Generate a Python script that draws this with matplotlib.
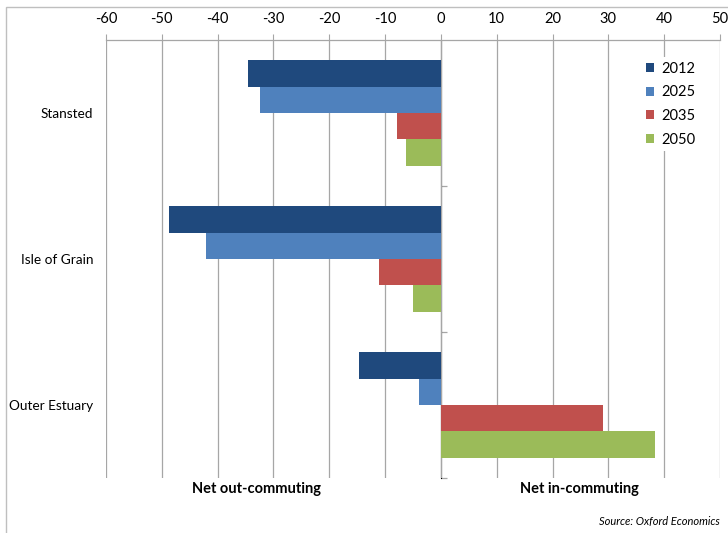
import matplotlib
matplotlib.use("Agg")
import matplotlib.pyplot as plt
from matplotlib.patches import Rectangle
import numpy as np

plt.rcParams['font.family'] = ['Lato', 'DejaVu Sans']

# Net commuting by location and year
locations = ["Stansted", "Isle of Grain", "Outer Estuary"]
years = ["2012", "2025", "2035", "2050"]
values = {
    "2012": [-34.5, -48.7, -14.6],
    "2025": [-32.4, -42.1, -3.9],
    "2035": [-7.9, -11.1, 29.0],
    "2050": [-6.3, -5.0, 38.3],
}
colors = ["#1F497D", "#4F81BD", "#C0504D", "#9BBB59"]
x_ticks = list(range(-60, 51, 10))

fig = plt.figure(figsize=(7.28, 5.33), dpi=100)
ax = fig.add_axes([106 / 728, 1 - 478 / 533, (720 - 106) / 728, (478 - 40) / 533])

pos = np.arange(len(locations))
h = 0.1815
for i, yr in enumerate(years):
    ax.barh(pos + (i - 1.5) * h, values[yr], height=h, color=colors[i],
            label=yr, zorder=3, linewidth=0)

grid_col = "#A6A6A6"
ax.set_xlim(-60, 50)
ax.set_ylim(2.5, -0.5)
ax.set_xticks(x_ticks)
ax.set_xticklabels([str(t) for t in x_ticks])
ax.xaxis.tick_top()
ax.tick_params(axis='x', which='major', direction='out', length=4, color=grid_col,
               labelsize=10.5, pad=6, labelcolor='#000000')
ax.grid(axis='x', color=grid_col, linewidth=0.9, zorder=0)

ax.set_yticks(pos)
ax.set_yticklabels(locations)
ax.tick_params(axis='y', length=0, labelsize=9.8, pad=9)

for s in ['left', 'right', 'bottom']:
    ax.spines[s].set_visible(False)
ax.spines['top'].set_color(grid_col)
ax.spines['top'].set_linewidth(0.9)

# category axis running through zero with boundary ticks
sec = ax.secondary_yaxis(60 / 110)
sec.set_yticks([0.5, 1.5, 2.5])
sec.set_yticklabels(["", "", ""])
sec.tick_params(length=4, color=grid_col, direction='out', width=0.9)
sec.spines['left'].set_color(grid_col)
sec.spines['left'].set_linewidth(0.9)

leg = ax.legend(loc='upper left', bbox_to_anchor=((634 - 106) / 614, (478 - 50) / 438),
                frameon=True, fontsize=10.5, handlelength=0.6, handleheight=0.6,
                handletextpad=0.5, labelspacing=0.66, borderpad=0.3)
leg.get_frame().set_facecolor('white')
leg.get_frame().set_edgecolor('none')
leg.get_frame().set_alpha(1)

fig.text(257 / 728, 1 - 489 / 533, "Net out-commuting", ha='center', va='center',
         fontsize=10.5, fontweight='bold')
fig.text(579 / 728, 1 - 489 / 533, "Net in-commuting", ha='center', va='center',
         fontsize=10.5, fontweight='bold')
fig.text(720 / 728, 1 - 522 / 533, "Source: Oxford Economics", ha='right', va='center',
         fontsize=8, fontstyle='italic')

fig.patches.append(Rectangle((6 / 728, -0.01), 1.0, 1 - 7 / 533 + 0.01,
                             transform=fig.transFigure, fill=False,
                             edgecolor='#BFBFBF', linewidth=1))

fig.savefig("out.png", dpi=100)
